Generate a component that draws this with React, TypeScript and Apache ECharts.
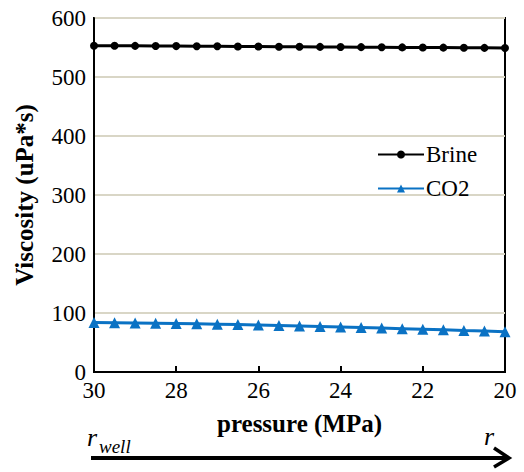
import React, { useEffect, useRef } from "react";
import * as echarts from "echarts";

// Pressure along the flow path (MPa), from the well outward
const pressure = [30, 29.5, 29, 28.5, 28, 27.5, 27, 26.5, 26, 25.5, 25, 24.5, 24, 23.5, 23, 22.5, 22, 21.5, 21, 20.5, 20];
// Viscosity (uPa*s)
const brine = [553, 553, 552.8, 552.6, 552.4, 552.2, 552, 551.8, 551.6, 551.4, 551.2, 551, 550.8, 550.6, 550.4, 550.2, 550, 549.8, 549.6, 549.4, 549.2];
const co2 = [84, 83.6, 83.2, 82.7, 82.2, 81.6, 81, 80.3, 79.6, 78.8, 78, 77.1, 76.2, 75.3, 74.4, 73.4, 72.4, 71.4, 70.3, 69.3, 68.2];
const yTicks = [0, 100, 200, 300, 400, 500, 600];

const serif = "Liberation Serif";

export default function App() {
  const ref = useRef<HTMLDivElement>(null);
  useEffect(() => {
    document.body.style.margin = "0";
    if (!ref.current) return;
    const chart = echarts.init(ref.current, undefined, { renderer: "svg" });
    chart.setOption({
      animation: false,
      backgroundColor: "#ffffff",
      textStyle: { fontFamily: serif },
      grid: {
        left: 94,
        right: 19,
        top: 18,
        bottom: 100,
        show: true,
        borderColor: "#000",
        borderWidth: 2,
      },
      legend: {
        orient: "vertical",
        left: 377,
        top: 143,
        padding: 0,
        itemWidth: 46,
        itemHeight: 10,
        itemGap: 11,
        textStyle: { fontFamily: serif, fontSize: 23, color: "#000", padding: [0, 0, 0, -3] },
        data: ["Brine", "CO2"],
      },
      xAxis: {
        type: "value",
        inverse: true,
        min: 20,
        max: 30,
        interval: 2,
        name: "pressure (MPa)",
        nameLocation: "middle",
        nameGap: 39,
        nameTextStyle: { fontFamily: serif, fontSize: 25, fontWeight: "bold", color: "#000" },
        axisLine: { lineStyle: { color: "#000", width: 2 } },
        axisTick: { inside: true, length: 6, lineStyle: { color: "#000", width: 2 } },
        axisLabel: { fontFamily: serif, fontSize: 23, color: "#000", margin: 7 },
        splitLine: { show: false },
      },
      yAxis: {
        type: "value",
        min: yTicks[0],
        max: yTicks[yTicks.length - 1],
        interval: 100,
        name: "Viscosity (uPa*s)",
        nameLocation: "middle",
        nameGap: 57,
        nameTextStyle: { fontFamily: serif, fontSize: 25, fontWeight: "bold", color: "#000" },
        axisLine: { show: true, lineStyle: { color: "#000", width: 2 } },
        axisTick: { show: false },
        axisLabel: { fontFamily: serif, fontSize: 23, color: "#000", margin: 8 },
        splitLine: { lineStyle: { color: "#d9d6c6", width: 2 } },
      },
      series: [
        {
          name: "Brine",
          type: "line",
          data: pressure.map((p, i) => [p, brine[i]]),
          symbol: "circle",
          symbolSize: 8,
          lineStyle: { color: "#000", width: 3 },
          itemStyle: { color: "#000" },
          z: 3,
        },
        {
          name: "CO2",
          type: "line",
          data: pressure.map((p, i) => [p, co2[i]]),
          symbol: "triangle",
          symbolSize: 11,
          lineStyle: { color: "#0a72c4", width: 3 },
          itemStyle: { color: "#0a72c4" },
          z: 3,
        },
      ],
      graphic: [
        {
          type: "line",
          shape: { x1: 91, y1: 458, x2: 507, y2: 458 },
          style: { stroke: "#000", lineWidth: 4 },
        },
        {
          type: "polyline",
          shape: { points: [[494, 448], [509, 458], [494, 467]] },
          style: { stroke: "#000", lineWidth: 3.5, fill: null },
        },
        {
          type: "text",
          left: 87,
          top: 424,
          style: { text: "r", fontFamily: serif, fontStyle: "italic", fontSize: 26, fill: "#000" },
        },
        {
          type: "text",
          left: 99,
          top: 437,
          style: { text: "well", fontFamily: serif, fontStyle: "italic", fontSize: 19, fill: "#000" },
        },
        {
          type: "text",
          left: 484,
          top: 423,
          style: { text: "r", fontFamily: serif, fontStyle: "italic", fontSize: 26, fill: "#000" },
        },
      ],
    });
    return () => chart.dispose();
  }, []);
  return <div ref={ref} style={{ width: 524, height: 472 }} />;
}
